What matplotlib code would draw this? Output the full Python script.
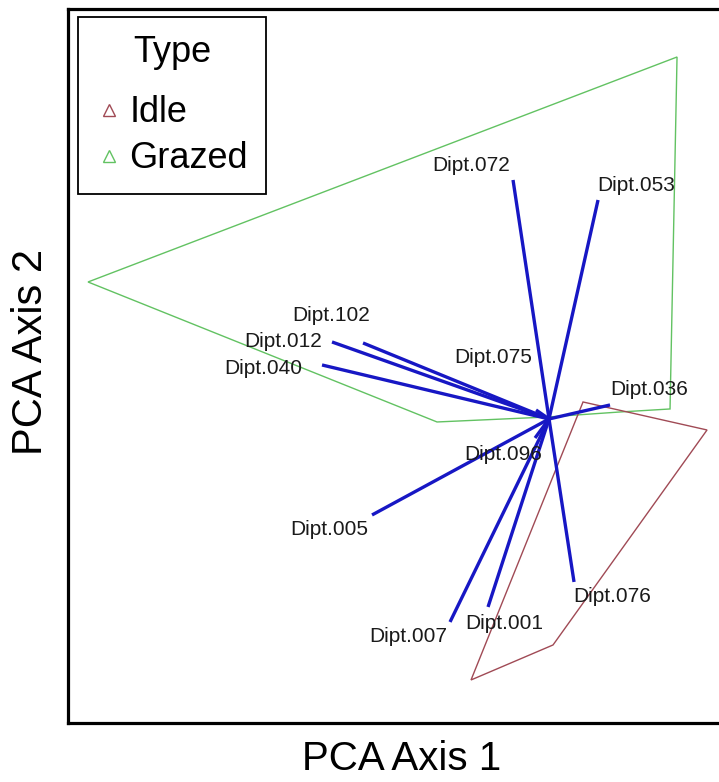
import matplotlib
matplotlib.use("Agg")
import matplotlib.pyplot as plt
from matplotlib.lines import Line2D

plt.rcParams['font.family'] = ['Liberation Sans', 'DejaVu Sans']

# species loadings on the first two PCA axes
species = ['Dipt.072', 'Dipt.053', 'Dipt.102', 'Dipt.012', 'Dipt.040', 'Dipt.075',
           'Dipt.036', 'Dipt.096', 'Dipt.005', 'Dipt.007', 'Dipt.001', 'Dipt.076']
load_x = [-0.36, 0.49, -1.86, -2.17, -2.27, -0.13, 0.61, -0.14, -1.77, -0.99, -0.61, 0.25]
load_y = [2.39, 2.19, 0.76, 0.77, 0.54, 0.09, 0.14, -0.19, -0.96, -2.03, -1.88, -1.63]

# convex hulls of the site scores by grazing type
grazed_x = [1.28, 1.21, 0.71, -0.01, -1.12, -4.61]
grazed_y = [3.62, 0.10, 0.07, 0.02, -0.03, 1.37]
idle_x = [0.34, 1.58, 0.04, -0.78]
idle_y = [0.17, -0.11, -2.26, -2.61]

types = ['Idle', 'Grazed']
type_colors = ['#a04a55', '#62c262']

# label placement: (dx, dy) in pixels from the arrow tip, horizontal alignment
label_pos = {
    'Dipt.072': (-3, 14, 'right'),
    'Dipt.053': (-1, 14, 'left'),
    'Dipt.102': (7, 27, 'right'),
    'Dipt.012': (-10, 0, 'right'),
    'Dipt.040': (-20, -4, 'right'),
    'Dipt.075': (-4, 52, 'right'),
    'Dipt.036': (0, 15, 'left'),
    'Dipt.096': (7, -17, 'right'),
    'Dipt.005': (-4, -15, 'right'),
    'Dipt.007': (-3, -15, 'right'),
    'Dipt.001': (-23, -17, 'left'),
    'Dipt.076': (-1, -15, 'left'),
}

fig = plt.figure(figsize=(7.19, 7.82), dpi=100)
ax = fig.add_axes([0.0946, 0.0755, 0.9277, 0.9130])

ax.fill(grazed_x, grazed_y, facecolor='none', edgecolor=type_colors[1], linewidth=1.0)
ax.fill(idle_x, idle_y, facecolor='none', edgecolor=type_colors[0], linewidth=1.0)

for name, lx, ly in zip(species, load_x, load_y):
    ax.plot([0, lx], [0, ly], color='#1717c4', linewidth=2.4, solid_capstyle='butt')
    dx, dy, ha = label_pos[name]
    ax.annotate(name, (lx, ly), xytext=(dx, dy), textcoords='offset pixels',
                ha=ha, va='center', fontsize=15, color='#1a1a1a')

ax.set_xlim(-4.81, 1.86)
ax.set_ylim(-3.04, 4.10)
ax.set_xticks([])
ax.set_yticks([])
for sp in ax.spines.values():
    sp.set_linewidth(2.3)

ax.set_xlabel('PCA Axis 1', fontsize=29)
ax.set_ylabel('PCA Axis 2', fontsize=30)
ax.xaxis.label.set_va('center')
ax.yaxis.label.set_va('center')
ax.xaxis.set_label_coords(0.5, -0.051)
ax.yaxis.set_label_coords(-0.0555, 0.52)

handles = [Line2D([], [], marker='^', linestyle='none', markerfacecolor='none',
                  markeredgecolor=c, markersize=9) for c in type_colors]
leg = ax.legend(handles, types, title='Type\n', loc='upper left',
                bbox_to_anchor=(0.015, 0.989), prop={'size': 26}, title_fontsize=26,
                handlelength=0.72, handletextpad=0.2, borderpad=0.5,
                labelspacing=0.3, borderaxespad=0, fancybox=False, framealpha=1,
                edgecolor='black')
leg.get_title().set_linespacing(0.25)
leg.get_frame().set_linewidth(1.3)

fig.savefig('out.png', dpi=100)
